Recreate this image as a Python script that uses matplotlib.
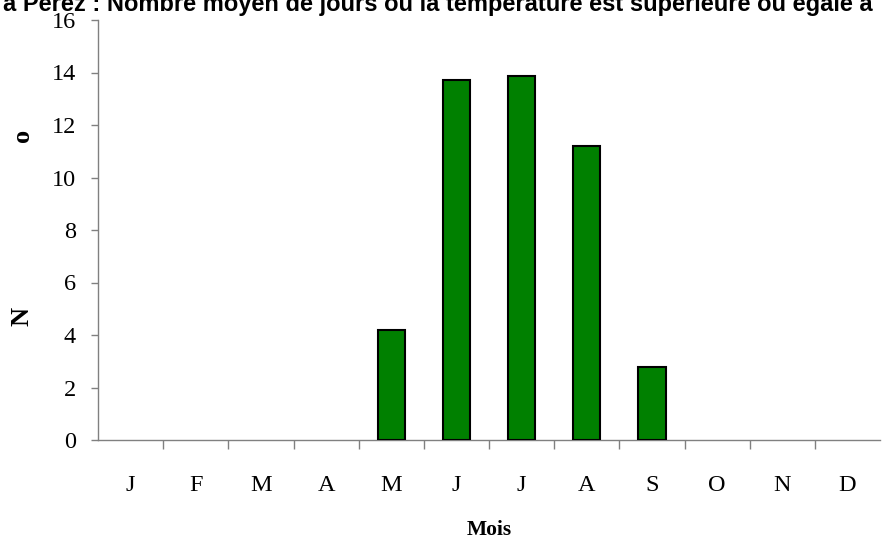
import matplotlib
matplotlib.use("Agg")
import matplotlib.pyplot as plt
import numpy as np

# Monthly mean number of days
months = ["J", "F", "M", "A", "M", "J", "J", "A", "S", "O", "N", "D"]
days = [0, 0, 0, 0, 4.2, 13.7, 13.85, 11.2, 2.8, 0, 0, 0]
yticks = [0, 2, 4, 6, 8, 10, 12, 14, 16]

title = "a Perez : Nombre moyen de jours où la température est supérieure ou égale à"

fig = plt.figure(figsize=(8.82, 5.38), dpi=100)
ax = fig.add_axes([98 / 882, 1 - 440 / 538, 782 / 882, 420 / 538])

x = np.arange(len(months))
# zero bars leave no visible mark in the original
edge_widths = [1.5 if d > 0 else 0 for d in days]
ax.bar(x, days, width=0.42, color="#008000", edgecolor="black",
       linewidth=edge_widths, zorder=3)

ax.set_xlim(-0.5, len(months) - 0.5)
ax.set_ylim(0, 16)
ax.set_yticks(yticks)
ax.set_yticklabels([str(v) for v in yticks], family="Liberation Serif", fontsize=17.5)
ax.set_xticks(x)
ax.set_xticklabels(months, family="Liberation Serif", fontsize=17.5)
ax.set_xticks(np.arange(0.5, len(months) - 0.5, 1), minor=True)

ax.tick_params(axis="x", which="major", length=0, pad=25)
ax.tick_params(axis="x", which="minor", length=6.5, width=1, color="#808080", direction="out")
ax.tick_params(axis="y", length=5, width=1, color="#808080", direction="out", pad=11)

for side in ["top", "right"]:
    ax.spines[side].set_visible(False)
for side in ["left", "bottom"]:
    ax.spines[side].set_color("#808080")
    ax.spines[side].set_linewidth(1)

# y label split as in the original
fig.text(22 / 882, 1 - 316 / 538, "N", rotation=90, ha="center", va="center",
         family="Liberation Serif", fontweight="bold", fontsize=19)
fig.text(22 / 882, 1 - 135 / 538, "o", rotation=90, ha="center", va="center",
         family="Liberation Serif", fontweight="bold", fontsize=19)

fig.text(489 / 882, 1 - 530 / 538, "Mois", ha="center", va="center",
         family="Liberation Serif", fontweight="bold", fontsize=15.5)

fig.text(438 / 882, 1 - 4 / 538, title, ha="center", va="center",
         family="Liberation Sans", fontweight="bold", fontsize=17)

fig.savefig("out.png", dpi=100)
